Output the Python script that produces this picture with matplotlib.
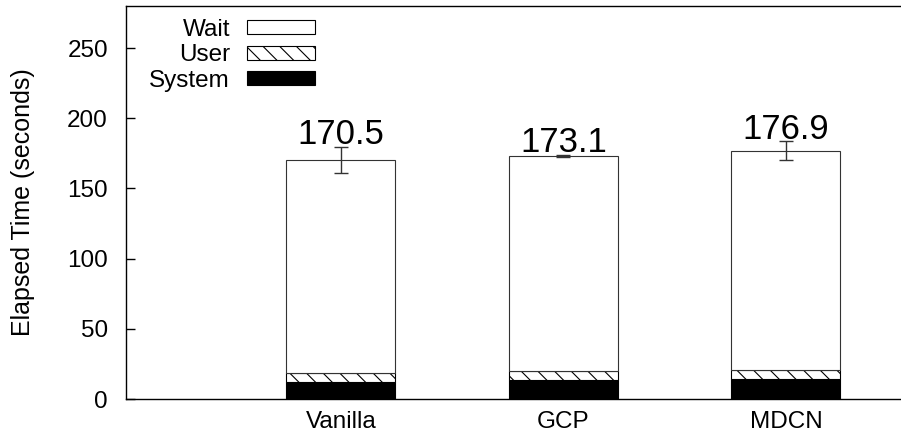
import numpy as np
import matplotlib
matplotlib.use("Agg")
import matplotlib.pyplot as plt
from matplotlib.patches import Patch

# valores
categorias = ['Vanilla', 'GCP', 'MDCN']
total = [170.5, 173.1, 176.9]
system = [12.1, 13.5, 14.0]
user = [6.2, 6.2, 6.4]
erro = [9.2, 0.7, 6.6]

total = np.array(total)
system = np.array(system)
user = np.array(user)
wait = total - system - user

plt.rcParams['font.family'] = ['Liberation Sans', 'DejaVu Sans']
plt.rcParams['hatch.linewidth'] = 0.8

fig = plt.figure(figsize=(9.01, 4.38), dpi=100)
ax = fig.add_axes([126/901, 39/438, 775/901, 393/438])

x = np.arange(1, len(categorias) + 1)
w = 0.49
ax.bar(x, system, w, color='black', edgecolor='black', linewidth=0.8)
ax.bar(x, user, w, bottom=system, color='white', edgecolor='black',
       hatch='\\\\', linewidth=0.8)
ax.bar(x, wait, w, bottom=system + user, color='white', edgecolor='#333333',
       linewidth=0.8)
ax.errorbar(x, total, yerr=erro, fmt='none', ecolor='#333333',
            elinewidth=1.0, capsize=5, capthick=1.0)

for xi, t, e in zip(x, total, erro):
    ax.text(xi, t + e + 2, f"{t:.1f}", ha='center', va='baseline', fontsize=25)

ax.set_xlim(0.034, 3.517)
ax.set_ylim(0, 280)
ax.set_yticks([0, 50, 100, 150, 200, 250])
ax.set_xticks(x)
ax.set_xticklabels(categorias)
ax.tick_params(axis='y', direction='in', length=6.5, width=1.0, pad=13, labelsize=17.5)
ax.tick_params(axis='x', length=0, pad=9, labelsize=17.5)
ax.set_ylabel("Elapsed Time (seconds)", fontsize=18)
ax.yaxis.set_label_coords(-0.117, 0.5)

for s in ['left', 'top', 'bottom']:
    ax.spines[s].set_linewidth(1.0)
ax.spines['right'].set_visible(False)

handles = [Patch(facecolor='white', edgecolor='black', linewidth=0.8),
           Patch(facecolor='white', edgecolor='black', hatch='\\\\', linewidth=0.8),
           Patch(facecolor='black', edgecolor='black', linewidth=0.8)]
ax.legend(handles, ['Wait', 'User', 'System'], loc='upper right',
          bbox_to_anchor=((315 - 126) / 775, 1 - 13 / 393), frameon=False,
          markerfirst=False, fontsize=17.5, handlelength=2.8, handleheight=0.5,
          handletextpad=0.7, labelspacing=0.14, borderpad=0, borderaxespad=0)

fig.savefig("out.png", dpi=100)
